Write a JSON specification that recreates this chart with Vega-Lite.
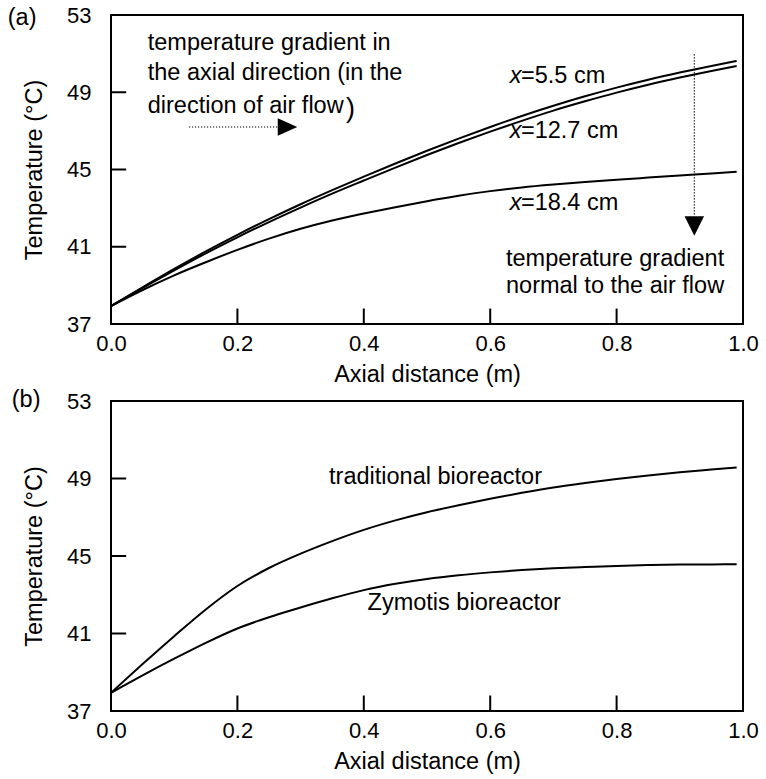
{
  "$schema": "https://vega.github.io/schema/vega-lite/v6.json",
  "padding": {"top": 3, "left": 6, "right": 5, "bottom": 3},
  "spacing": 0,
  "datasets": {
    "curvesA": [
      {"series": "x=5.5 cm", "axial": 0, "temp": 37.93},
      {"series": "x=5.5 cm", "axial": 0.05, "temp": 38.9},
      {"series": "x=5.5 cm", "axial": 0.1, "temp": 39.85},
      {"series": "x=5.5 cm", "axial": 0.15, "temp": 40.76},
      {"series": "x=5.5 cm", "axial": 0.2, "temp": 41.62},
      {"series": "x=5.5 cm", "axial": 0.25, "temp": 42.43},
      {"series": "x=5.5 cm", "axial": 0.3, "temp": 43.2},
      {"series": "x=5.5 cm", "axial": 0.35, "temp": 43.93},
      {"series": "x=5.5 cm", "axial": 0.4, "temp": 44.63},
      {"series": "x=5.5 cm", "axial": 0.45, "temp": 45.31},
      {"series": "x=5.5 cm", "axial": 0.5, "temp": 45.97},
      {"series": "x=5.5 cm", "axial": 0.55, "temp": 46.6},
      {"series": "x=5.5 cm", "axial": 0.6, "temp": 47.2},
      {"series": "x=5.5 cm", "axial": 0.65, "temp": 47.77},
      {"series": "x=5.5 cm", "axial": 0.7, "temp": 48.3},
      {"series": "x=5.5 cm", "axial": 0.75, "temp": 48.79},
      {"series": "x=5.5 cm", "axial": 0.8, "temp": 49.24},
      {"series": "x=5.5 cm", "axial": 0.85, "temp": 49.65},
      {"series": "x=5.5 cm", "axial": 0.9, "temp": 50.02},
      {"series": "x=5.5 cm", "axial": 0.95, "temp": 50.36},
      {"series": "x=5.5 cm", "axial": 0.99, "temp": 50.62},
      {"series": "x=12.7 cm", "axial": 0, "temp": 37.93},
      {"series": "x=12.7 cm", "axial": 0.05, "temp": 38.87},
      {"series": "x=12.7 cm", "axial": 0.1, "temp": 39.78},
      {"series": "x=12.7 cm", "axial": 0.15, "temp": 40.66},
      {"series": "x=12.7 cm", "axial": 0.2, "temp": 41.49},
      {"series": "x=12.7 cm", "axial": 0.25, "temp": 42.28},
      {"series": "x=12.7 cm", "axial": 0.3, "temp": 43.03},
      {"series": "x=12.7 cm", "axial": 0.35, "temp": 43.75},
      {"series": "x=12.7 cm", "axial": 0.4, "temp": 44.43},
      {"series": "x=12.7 cm", "axial": 0.45, "temp": 45.1},
      {"series": "x=12.7 cm", "axial": 0.5, "temp": 45.75},
      {"series": "x=12.7 cm", "axial": 0.55, "temp": 46.37},
      {"series": "x=12.7 cm", "axial": 0.6, "temp": 46.96},
      {"series": "x=12.7 cm", "axial": 0.65, "temp": 47.52},
      {"series": "x=12.7 cm", "axial": 0.7, "temp": 48.05},
      {"series": "x=12.7 cm", "axial": 0.75, "temp": 48.53},
      {"series": "x=12.7 cm", "axial": 0.8, "temp": 48.98},
      {"series": "x=12.7 cm", "axial": 0.85, "temp": 49.39},
      {"series": "x=12.7 cm", "axial": 0.9, "temp": 49.76},
      {"series": "x=12.7 cm", "axial": 0.95, "temp": 50.1},
      {"series": "x=12.7 cm", "axial": 0.99, "temp": 50.36},
      {"series": "x=18.4 cm", "axial": 0, "temp": 37.93},
      {"series": "x=18.4 cm", "axial": 0.05, "temp": 38.76},
      {"series": "x=18.4 cm", "axial": 0.1, "temp": 39.52},
      {"series": "x=18.4 cm", "axial": 0.15, "temp": 40.2},
      {"series": "x=18.4 cm", "axial": 0.2, "temp": 40.84},
      {"series": "x=18.4 cm", "axial": 0.25, "temp": 41.42},
      {"series": "x=18.4 cm", "axial": 0.3, "temp": 41.93},
      {"series": "x=18.4 cm", "axial": 0.35, "temp": 42.36},
      {"series": "x=18.4 cm", "axial": 0.4, "temp": 42.72},
      {"series": "x=18.4 cm", "axial": 0.45, "temp": 43.05},
      {"series": "x=18.4 cm", "axial": 0.5, "temp": 43.36},
      {"series": "x=18.4 cm", "axial": 0.55, "temp": 43.64},
      {"series": "x=18.4 cm", "axial": 0.6, "temp": 43.88},
      {"series": "x=18.4 cm", "axial": 0.65, "temp": 44.07},
      {"series": "x=18.4 cm", "axial": 0.7, "temp": 44.22},
      {"series": "x=18.4 cm", "axial": 0.75, "temp": 44.35},
      {"series": "x=18.4 cm", "axial": 0.8, "temp": 44.47},
      {"series": "x=18.4 cm", "axial": 0.85, "temp": 44.58},
      {"series": "x=18.4 cm", "axial": 0.9, "temp": 44.69},
      {"series": "x=18.4 cm", "axial": 0.95, "temp": 44.79},
      {"series": "x=18.4 cm", "axial": 0.99, "temp": 44.88}
    ],
    "curvesB": [
      {"series": "traditional", "axial": 0, "temp": 37.94},
      {"series": "traditional", "axial": 0.05, "temp": 39.42},
      {"series": "traditional", "axial": 0.1, "temp": 40.86},
      {"series": "traditional", "axial": 0.15, "temp": 42.24},
      {"series": "traditional", "axial": 0.2, "temp": 43.45},
      {"series": "traditional", "axial": 0.25, "temp": 44.38},
      {"series": "traditional", "axial": 0.3, "temp": 45.12},
      {"series": "traditional", "axial": 0.35, "temp": 45.77},
      {"series": "traditional", "axial": 0.4, "temp": 46.35},
      {"series": "traditional", "axial": 0.45, "temp": 46.84},
      {"series": "traditional", "axial": 0.5, "temp": 47.26},
      {"series": "traditional", "axial": 0.55, "temp": 47.62},
      {"series": "traditional", "axial": 0.6, "temp": 47.95},
      {"series": "traditional", "axial": 0.65, "temp": 48.26},
      {"series": "traditional", "axial": 0.7, "temp": 48.54},
      {"series": "traditional", "axial": 0.75, "temp": 48.77},
      {"series": "traditional", "axial": 0.8, "temp": 48.98},
      {"series": "traditional", "axial": 0.85, "temp": 49.16},
      {"series": "traditional", "axial": 0.9, "temp": 49.32},
      {"series": "traditional", "axial": 0.95, "temp": 49.46},
      {"series": "traditional", "axial": 0.99, "temp": 49.57},
      {"series": "Zymotis", "axial": 0, "temp": 37.94},
      {"series": "Zymotis", "axial": 0.05, "temp": 38.84},
      {"series": "Zymotis", "axial": 0.1, "temp": 39.7},
      {"series": "Zymotis", "axial": 0.15, "temp": 40.52},
      {"series": "Zymotis", "axial": 0.2, "temp": 41.26},
      {"series": "Zymotis", "axial": 0.25, "temp": 41.84},
      {"series": "Zymotis", "axial": 0.3, "temp": 42.34},
      {"series": "Zymotis", "axial": 0.35, "temp": 42.815},
      {"series": "Zymotis", "axial": 0.4, "temp": 43.24},
      {"series": "Zymotis", "axial": 0.45, "temp": 43.565},
      {"series": "Zymotis", "axial": 0.5, "temp": 43.815},
      {"series": "Zymotis", "axial": 0.55, "temp": 44.005},
      {"series": "Zymotis", "axial": 0.6, "temp": 44.155},
      {"series": "Zymotis", "axial": 0.65, "temp": 44.275},
      {"series": "Zymotis", "axial": 0.7, "temp": 44.365},
      {"series": "Zymotis", "axial": 0.75, "temp": 44.43},
      {"series": "Zymotis", "axial": 0.8, "temp": 44.49},
      {"series": "Zymotis", "axial": 0.85, "temp": 44.53},
      {"series": "Zymotis", "axial": 0.9, "temp": 44.555},
      {"series": "Zymotis", "axial": 0.95, "temp": 44.565},
      {"series": "Zymotis", "axial": 0.99, "temp": 44.57}
    ]
  },
  "vconcat": [
    {
      "width": 632,
      "height": 309,
      "encoding": {
        "x": {
          "type": "quantitative",
          "scale": {"domain": [0, 1], "nice": false, "zero": false},
          "axis": {"title": "Axial distance (m)", "values": [0, 0.2, 0.4, 0.6, 0.8, 1], "format": ".1f"}
        },
        "y": {
          "type": "quantitative",
          "scale": {"domain": [37, 53], "nice": false, "zero": false},
          "axis": {"title": "Temperature (°C)", "values": [37, 41, 45, 49, 53]}
        }
      },
      "layer": [
        {
          "data": {"name": "curvesA"},
          "mark": {"type": "line", "interpolate": "monotone", "color": "black", "strokeWidth": 2},
          "encoding": {
            "x": {"field": "axial", "type": "quantitative"},
            "y": {"field": "temp", "type": "quantitative"},
            "detail": {"field": "series"}
          }
        },
        {
          "data": {"values": [
            {"axial": 0.1234, "axial2": 0.264, "temp": 47.2, "temp2": 47.2},
            {"axial": 0.923, "axial2": 0.923, "temp": 50.97, "temp2": 42.59}
          ]},
          "mark": {"type": "rule", "color": "black", "strokeWidth": 1.2, "strokeDash": [1.2, 1.8]},
          "encoding": {
            "x": {"field": "axial", "type": "quantitative"},
            "x2": {"field": "axial2"},
            "y": {"field": "temp", "type": "quantitative"},
            "y2": {"field": "temp2"}
          }
        },
        {
          "data": {"values": [
            {"axial": 0.2793, "temp": 47.2, "dir": "right"},
            {"axial": 0.923, "temp": 42.08, "dir": "down"}
          ]},
          "mark": {"type": "point", "filled": true, "color": "black", "opacity": 1, "size": 380, "strokeWidth": 0},
          "encoding": {
            "x": {"field": "axial", "type": "quantitative"},
            "y": {"field": "temp", "type": "quantitative"},
            "shape": {
              "field": "dir",
              "legend": null,
              "scale": {"domain": ["right", "down"], "range": ["M-1,-0.9L1,0L-1,0.9Z", "M-1,-1L1,-1L0,1Z"]}
            }
          }
        },
        {
          "data": {"values": [
            {"label": "temperature gradient in", "axial": 0.0581, "temp": 51.17},
            {"label": "the axial direction (in the", "axial": 0.0581, "temp": 49.64},
            {"label": "direction of air flow", "axial": 0.0581, "temp": 47.94},
            {"label": "=5.5 cm", "axial": 0.6487, "temp": 49.5},
            {"label": "=12.7 cm", "axial": 0.6487, "temp": 46.65},
            {"label": "=18.4 cm", "axial": 0.6487, "temp": 42.89},
            {"label": "temperature gradient", "axial": 0.625, "temp": 40.0},
            {"label": "normal to the air flow", "axial": 0.625, "temp": 38.62},
            {"label": "(a)", "axial": -0.1634, "temp": 52.48}
          ]},
          "mark": {"type": "text", "align": "left", "baseline": "alphabetic", "fontSize": 23.5, "color": "black", "clip": false},
          "encoding": {
            "x": {"field": "axial", "type": "quantitative"},
            "y": {"field": "temp", "type": "quantitative"},
            "text": {"field": "label"}
          }
        },
        {
          "data": {"values": [
            {"label": ")", "axial": 0.372, "temp": 47.72}
          ]},
          "mark": {"type": "text", "align": "left", "baseline": "alphabetic", "fontSize": 27, "color": "black"},
          "encoding": {
            "x": {"field": "axial", "type": "quantitative"},
            "y": {"field": "temp", "type": "quantitative"},
            "text": {"field": "label"}
          }
        },
        {
          "data": {"values": [
            {"label": "x", "axial": 0.6308, "temp": 49.5},
            {"label": "x", "axial": 0.6308, "temp": 46.65},
            {"label": "x", "axial": 0.6308, "temp": 42.89}
          ]},
          "mark": {"type": "text", "align": "left", "baseline": "alphabetic", "fontSize": 23.5, "fontStyle": "italic", "color": "black"},
          "encoding": {
            "x": {"field": "axial", "type": "quantitative"},
            "y": {"field": "temp", "type": "quantitative"},
            "text": {"field": "label"}
          }
        },
        {
          "data": {"values": [
            {"tx": 0.2, "tx2": 0.2, "ty": 37, "ty2": 37.8},
            {"tx": 0.4, "tx2": 0.4, "ty": 37, "ty2": 37.8},
            {"tx": 0.6, "tx2": 0.6, "ty": 37, "ty2": 37.8},
            {"tx": 0.8, "tx2": 0.8, "ty": 37, "ty2": 37.8},
            {"tx": 0, "tx2": 0.024, "ty": 41, "ty2": 41},
            {"tx": 0, "tx2": 0.024, "ty": 45, "ty2": 45},
            {"tx": 0, "tx2": 0.024, "ty": 49, "ty2": 49}
          ]},
          "mark": {"type": "rule", "color": "black", "strokeWidth": 2},
          "encoding": {
            "x": {"field": "tx", "type": "quantitative"},
            "x2": {"field": "tx2"},
            "y": {"field": "ty", "type": "quantitative"},
            "y2": {"field": "ty2"}
          }
        }
      ]
    },
    {
      "width": 632,
      "height": 310,
      "encoding": {
        "x": {
          "type": "quantitative",
          "scale": {"domain": [0, 1], "nice": false, "zero": false},
          "axis": {"title": "Axial distance (m)", "values": [0, 0.2, 0.4, 0.6, 0.8, 1], "format": ".1f"}
        },
        "y": {
          "type": "quantitative",
          "scale": {"domain": [37, 53], "nice": false, "zero": false},
          "axis": {"title": "Temperature (°C)", "values": [37, 41, 45, 49, 53]}
        }
      },
      "layer": [
        {
          "data": {"name": "curvesB"},
          "mark": {"type": "line", "interpolate": "monotone", "color": "black", "strokeWidth": 2},
          "encoding": {
            "x": {"field": "axial", "type": "quantitative"},
            "y": {"field": "temp", "type": "quantitative"},
            "detail": {"field": "series"}
          }
        },
        {
          "data": {"values": [
            {"label": "traditional bioreactor", "axial": 0.345, "temp": 48.7},
            {"label": "Zymotis bioreactor", "axial": 0.406, "temp": 42.19},
            {"label": "(b)", "axial": -0.157, "temp": 52.68}
          ]},
          "mark": {"type": "text", "align": "left", "baseline": "alphabetic", "fontSize": 23.5, "color": "black", "clip": false},
          "encoding": {
            "x": {"field": "axial", "type": "quantitative"},
            "y": {"field": "temp", "type": "quantitative"},
            "text": {"field": "label"}
          }
        },
        {
          "data": {"values": [
            {"tx": 0.2, "tx2": 0.2, "ty": 37, "ty2": 37.8},
            {"tx": 0.4, "tx2": 0.4, "ty": 37, "ty2": 37.8},
            {"tx": 0.6, "tx2": 0.6, "ty": 37, "ty2": 37.8},
            {"tx": 0.8, "tx2": 0.8, "ty": 37, "ty2": 37.8},
            {"tx": 0, "tx2": 0.024, "ty": 41, "ty2": 41},
            {"tx": 0, "tx2": 0.024, "ty": 45, "ty2": 45},
            {"tx": 0, "tx2": 0.024, "ty": 49, "ty2": 49}
          ]},
          "mark": {"type": "rule", "color": "black", "strokeWidth": 2},
          "encoding": {
            "x": {"field": "tx", "type": "quantitative"},
            "x2": {"field": "tx2"},
            "y": {"field": "ty", "type": "quantitative"},
            "y2": {"field": "ty2"}
          }
        }
      ]
    }
  ],
  "config": {
    "font": "Liberation Sans",
    "view": {"stroke": "black", "strokeWidth": 2},
    "axis": {
      "domain": false,
      "grid": false,
      "ticks": false,
      "labelFontSize": 22,
      "labelColor": "black",
      "titleFontSize": 23.5,
      "titleFontWeight": "normal",
      "titleColor": "black"
    },
    "axisX": {"labelPadding": 9, "titlePadding": 8, "labelFlush": false},
    "axisY": {"labelPadding": 20, "titlePadding": 20, "labelFlush": false}
  }
}
